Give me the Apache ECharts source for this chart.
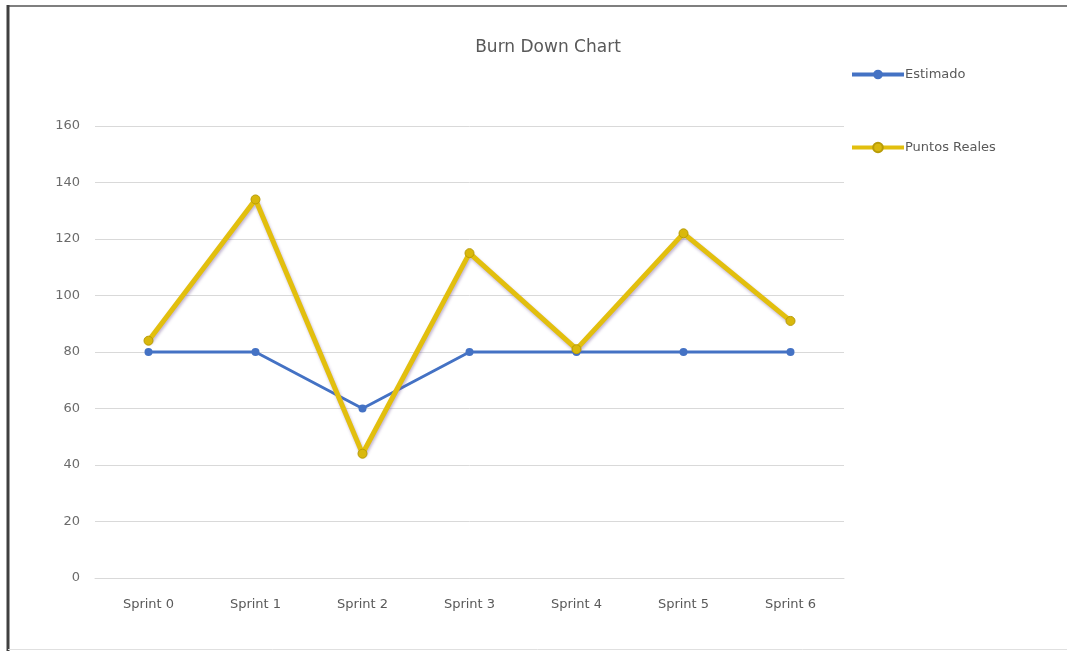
<!DOCTYPE html>
<html>
<head>
<meta charset="utf-8">
<script src="https://cdn.jsdelivr.net/npm/echarts@6/dist/echarts.min.js"></script>
<style>
  html, body { margin: 0; padding: 0; background: #ffffff; }
  #chart { width: 1067px; height: 651px; }
</style>
</head>
<body>
<div id="chart"></div>
<script>
// Sprint categories and story points per sprint
const sprints = ['Sprint 0', 'Sprint 1', 'Sprint 2', 'Sprint 3', 'Sprint 4', 'Sprint 5', 'Sprint 6'];
const estimado = [80, 80, 60, 80, 80, 80, 80];
const puntosReales = [84, 134, 44, 115, 81, 122, 91];
const yTicks = { min: 0, max: 160, interval: 20 };

const textColor = '#595959';
const fontFamily = '"DejaVu Sans", "Noto Sans", sans-serif';
const blue = '#4472C4';
const gold = '#E2BF0E';

const chart = echarts.init(document.getElementById('chart'), null, { renderer: 'canvas' });

chart.setOption({
  backgroundColor: '#ffffff',
  animation: false,
  title: {
    text: 'Burn Down Chart',
    left: 543,
    top: 34,
    textAlign: 'center',
    textStyle: { color: textColor, fontSize: 17, fontWeight: 'normal', fontFamily: fontFamily }
  },
  legend: {
    orient: 'vertical',
    left: 845,
    top: 63,
    itemWidth: 52,
    itemHeight: 12,
    itemGap: 60,
    textStyle: { color: textColor, fontSize: 13, fontFamily: fontFamily, padding: [0, 0, 0, -4] },
    data: [
      { name: 'Estimado', lineStyle: { width: 4 } },
      { name: 'Puntos Reales', lineStyle: { width: 4 } }
    ]
  },
  grid: { left: 95, right: 223, top: 126, bottom: 73 },
  xAxis: {
    type: 'category',
    data: sprints,
    boundaryGap: true,
    axisLine: { show: true, lineStyle: { color: '#d9d9d9' } },
    axisTick: { show: false },
    axisLabel: { color: textColor, fontSize: 13, fontFamily: fontFamily, margin: 20 }
  },
  yAxis: {
    type: 'value',
    min: yTicks.min,
    max: yTicks.max,
    interval: yTicks.interval,
    axisLine: { show: false },
    axisTick: { show: false },
    axisLabel: { color: '#6b6b6b', fontSize: 13, fontFamily: fontFamily, margin: 15 },
    splitLine: { lineStyle: { color: '#d9d9d9', width: 1 } }
  },
  series: [
    {
      name: 'Estimado',
      type: 'line',
      data: estimado,
      symbol: 'circle',
      symbolSize: 8,
      z: 2,
      lineStyle: { color: blue, width: 3 },
      itemStyle: { color: blue }
    },
    {
      name: 'Puntos Reales',
      type: 'line',
      data: puntosReales,
      symbol: 'circle',
      symbolSize: 9,
      z: 3,
      lineStyle: {
        color: gold,
        width: 5,
        shadowColor: 'rgba(120, 90, 150, 0.45)',
        shadowBlur: 3,
        shadowOffsetX: 1,
        shadowOffsetY: 2
      },
      itemStyle: { color: '#D9B80C', borderColor: '#B89C08', borderWidth: 1 }
    }
  ],
  graphic: [
    // frame around the chart area
    { type: 'line', shape: { x1: 8, y1: 6, x2: 1067, y2: 6 }, style: { stroke: '#7f7f7f', lineWidth: 2 }, silent: true },
    { type: 'line', shape: { x1: 8, y1: 5, x2: 8, y2: 651 }, style: { stroke: '#404040', lineWidth: 3 }, silent: true },
    { type: 'line', shape: { x1: 8, y1: 649.5, x2: 1067, y2: 649.5 }, style: { stroke: '#e0e0e0', lineWidth: 1 }, silent: true }
  ]
});
</script>
</body>
</html>
